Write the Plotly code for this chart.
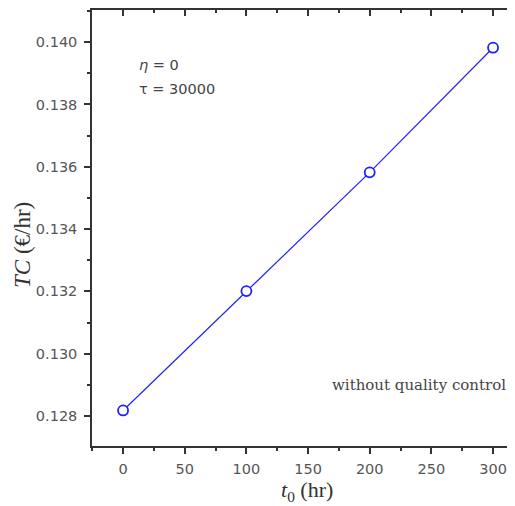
import plotly.graph_objects as go

t0 = [0, 100, 200, 300]
tc = [0.12818, 0.13201, 0.13582, 0.13982]
x_ticks = [0, 50, 100, 150, 200, 250, 300]
y_ticks = [0.128, 0.130, 0.132, 0.134, 0.136, 0.138, 0.140]
y_tick_labels = ["0.128", "0.130", "0.132", "0.134", "0.136", "0.138", "0.140"]

fig = go.Figure()
fig.add_trace(go.Scatter(
    x=t0, y=tc, mode="lines+markers",
    line=dict(color="#2020ff", width=1.2),
    marker=dict(symbol="circle", size=10, color="white",
                line=dict(color="#2020ff", width=1.8)),
    showlegend=False,
))
# dummy trace for top axis
fig.add_trace(go.Scatter(x=[0], y=[tc[0]], xaxis="x2", mode="markers",
                         marker=dict(opacity=0), showlegend=False, hoverinfo="skip"))

tickfont = dict(family="DejaVu Sans", size=14.5, color="#555555")
xr = [-25.2, 317.8]
yr = [0.12704, 0.14103]

# page body has an 8px margin: work in absolute window pixels, subtract offset
OFF = 8
W, H = 515, 506
L_abs, T_abs, R_abs, B_abs = 92, 10, 515, 446
L = L_abs - OFF
T = T_abs - OFF
R = W - (R_abs - OFF)
B = H - (B_abs - OFF)
PW = W - L - R
PH = H - T - B

fig.update_layout(
    width=W, height=H,
    margin=dict(l=L, r=R, t=T, b=B, autoexpand=False),
    plot_bgcolor="white", paper_bgcolor="white",
    xaxis=dict(
        range=xr, tickmode="array", tickvals=x_ticks, automargin=False,
        ticks="outside", ticklen=6, tickwidth=1.5, tickcolor="#333",
        showline=True, linecolor="#333", linewidth=1.5, ticklabelstandoff=3,
        showgrid=False, zeroline=False, tickfont=tickfont,
        minor=dict(dtick=25, tick0=0, ticks="outside", ticklen=3, tickwidth=1.5, tickcolor="#333"),
    ),
    xaxis2=dict(
        range=xr, overlaying="x", side="top", tickmode="array", tickvals=x_ticks,
        automargin=False,
        ticks="inside", ticklen=6, tickwidth=1.5, tickcolor="#333",
        showline=True, linecolor="#333", linewidth=1.5,
        showgrid=False, zeroline=False, showticklabels=False,
        minor=dict(dtick=25, tick0=0, ticks="inside", ticklen=3, tickwidth=1.5, tickcolor="#333"),
    ),
    yaxis=dict(
        range=yr, tickmode="array", tickvals=y_ticks, ticktext=y_tick_labels,
        automargin=False, ticklabelstandoff=4,
        ticks="outside", ticklen=6, tickwidth=1.5, tickcolor="#333",
        showline=True, linecolor="#333", linewidth=1.5,
        showgrid=False, zeroline=False, tickfont=tickfont,
        minor=dict(dtick=0.001, tick0=0.128, ticks="outside", ticklen=3, tickwidth=1.5, tickcolor="#333"),
    ),
)


def px(x):
    return (x - L_abs) / PW


def py(y):
    return (B_abs - y) / PH


serif = "Liberation Serif"
fig.add_annotation(
    x=px(23), y=py(245), xref="paper", yref="paper", xanchor="center", yanchor="middle",
    text="<i>TC</i> (€/hr)", textangle=-90, showarrow=False,
    font=dict(family=serif, size=23, color="#333"),
)
fig.add_annotation(
    x=px(307), y=py(491), xref="paper", yref="paper",
    xanchor="center", yanchor="middle",
    text="<i>t</i><sub>0</sub> (hr)", showarrow=False,
    font=dict(family=serif, size=22, color="#333"),
)
fig.add_annotation(
    x=px(137), y=py(65), xref="paper", yref="paper",
    xanchor="left", yanchor="middle", align="left",
    text="<i>η</i> = 0", showarrow=False,
    font=dict(family="DejaVu Sans", size=14.5, color="#444"),
)
fig.add_annotation(
    x=px(137), y=py(89), xref="paper", yref="paper",
    xanchor="left", yanchor="middle", align="left",
    text="τ = 30000", showarrow=False,
    font=dict(family="DejaVu Sans", size=14.5, color="#444"),
)
fig.add_annotation(
    x=px(508), y=py(385), xref="paper", yref="paper",
    xanchor="right", yanchor="middle",
    text="without quality control", showarrow=False,
    font=dict(family="DejaVu Serif", size=15, color="#444"),
)

fig.write_html("out.html")
